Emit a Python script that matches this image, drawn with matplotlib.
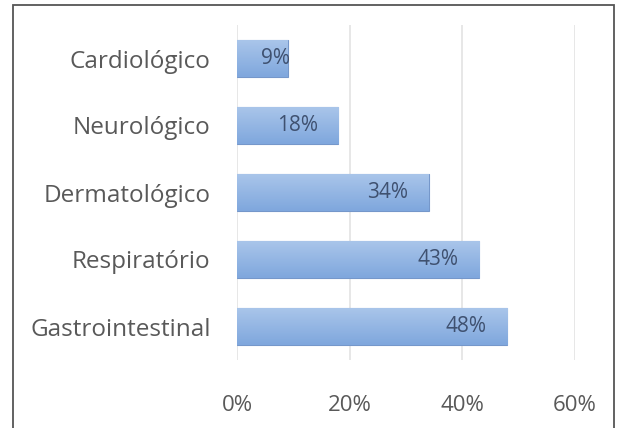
import matplotlib
matplotlib.use("Agg")
import matplotlib.pyplot as plt
import numpy as np
from matplotlib.patches import Rectangle
from matplotlib.ticker import FuncFormatter

categories = ["Cardiológico", "Neurológico", "Dermatológico", "Respiratório", "Gastrointestinal"]
values = [0.09, 0.18, 0.34, 0.43, 0.48]
xticks = [0.0, 0.2, 0.4, 0.6]

_COLORS = {
    "text": "#595959",
    "label": "#3F5170",
    "grid": "#E3E3E3",
    "bar_top": "#A9C5EA",
    "bar_bottom": "#7FA7DD",
    "bar_edge": "#7597CA",
    "frame": "#555555",
}

plt.rcParams["font.family"] = ["Open Sans", "DejaVu Sans"]

fig = plt.figure(figsize=(6.26, 4.28), dpi=100, facecolor="white")
ax = fig.add_axes([237 / 626, 1 - 360 / 428, 338 / 626, 335 / 428])

y = np.arange(len(categories))
bars = ax.barh(y, values, height=0.54, color=_COLORS["bar_bottom"],
               edgecolor=_COLORS["bar_edge"], linewidth=0.8, zorder=2)

# vertical gradient fill, light on top
grad = np.linspace(0, 1, 64).reshape(-1, 1)
cmap = matplotlib.colors.LinearSegmentedColormap.from_list(
    "bar", [_COLORS["bar_top"], _COLORS["bar_bottom"]])
for b in bars:
    x0, yb = b.get_x(), b.get_y()
    im = ax.imshow(grad, cmap=cmap, aspect="auto", zorder=2.5,
                   extent=[x0, x0 + b.get_width(), yb + b.get_height(), yb])
    im.set_clip_path(b)

ax.set_xlim(0, 0.6)
ax.set_ylim(len(categories) - 0.5, -0.5)
ax.set_yticks(y)
ax.set_yticklabels(categories, fontsize=17.5, color=_COLORS["text"])
ax.set_xticks(xticks)
ax.xaxis.set_major_formatter(FuncFormatter(lambda v, p: f"{v * 100:.0f}%"))
ax.tick_params(axis="x", length=0, pad=25, labelsize=16, labelcolor=_COLORS["text"])
ax.tick_params(axis="y", length=0, pad=19)
ax.grid(True, axis="x", color=_COLORS["grid"], linewidth=1.2, zorder=0)
ax.set_axisbelow(True)
for s in ax.spines.values():
    s.set_visible(False)

for yi, v in zip(y, values):
    if v < 0.1:
        ax.annotate(f"{v * 100:.0f}%", (v, yi), xytext=(2, 0), textcoords="offset points",
                    ha="right", va="center", fontsize=15, color=_COLORS["label"], zorder=3)
    else:
        ax.annotate(f"{v * 100:.0f}%", (v, yi), xytext=(-15, 0), textcoords="offset points",
                    ha="right", va="center", fontsize=15, color=_COLORS["label"], zorder=3)

# outer chart frame (bottom edge cut off in the original)
fig.patches.append(Rectangle((13 / 626, -0.05), 601 / 626, 1.05 - 5 / 428,
                             transform=fig.transFigure, fill=False,
                             edgecolor=_COLORS["frame"], linewidth=1.3))

fig.savefig("out.png", dpi=100, facecolor="white")
